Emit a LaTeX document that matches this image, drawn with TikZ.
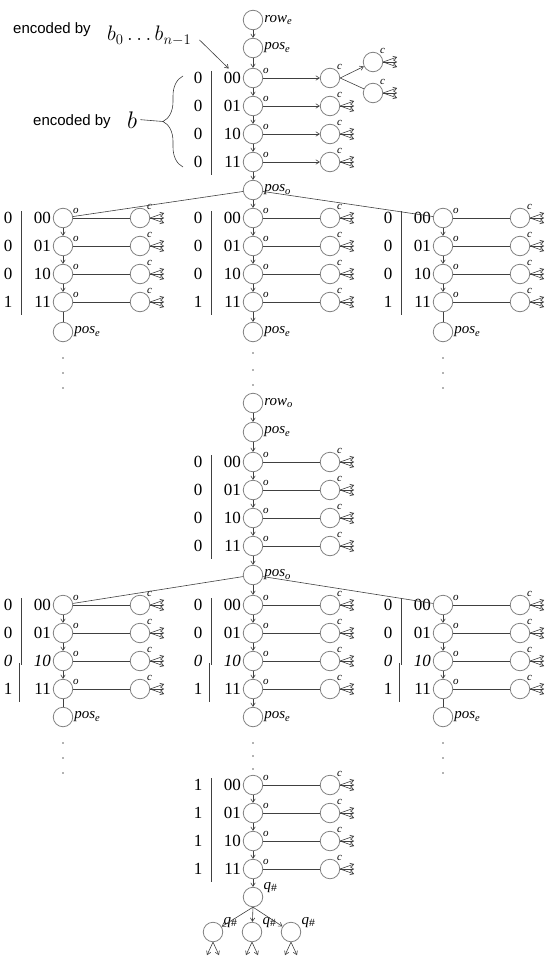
\RequirePackage{fix-cm}
\documentclass[tikz,border=0pt]{standalone}
\usepackage{fontspec}
\setmainfont{Liberation Serif}
\setsansfont{Liberation Sans}
\usetikzlibrary{arrows.meta, decorations.pathreplacing, positioning}

\begin{document}
\begin{tikzpicture}[x=1pt, y=-1pt,
  state/.style={circle, draw=gray, line width=0.8pt, minimum size=19.5pt, inner sep=0pt},
  arr/.style={-{Straight Barb[length=3.5pt, width=4.5pt]}, black!75, line width=0.6pt},
  line/.style={black!75, line width=0.6pt},
  bit/.style={font=\fontsize{17}{17}\selectfont, inner sep=0pt},
  olab/.style={font=\fontsize{11}{11}\selectfont\itshape, inner sep=0.5pt},
  namelab/.style={font=\fontsize{15}{15}\selectfont\itshape, inner sep=1pt},
  note/.style={font=\sffamily\fontsize{15}{15}\selectfont, inner sep=0pt}]
\useasboundingbox (0,0) rectangle (545,958);
% the bit blocks: four o states, each with its c state
\foreach \p/\x/\y/\ba/\bb/\bc/\bd/\cc/\hs/\bs/\fr in {
  t/253/78/0/0/0/0/10/arr/0/{1,2,3},
  ul/63/218/0/0/0/1/10/line/0/{0,1,2,3},
  um/253/218/0/0/0/1/10/line/0/{0,1,2,3},
  ur/443/218/0/0/0/1/10/line/0/{0,1,2,3},
  m/253/462/0/0/0/0/10/line/0/{0,1,2,3},
  ll/63/605/0/0/{\itshape 0}/1/{\itshape 10}/line/-1.5/{0,1,2,3},
  lm/253/605/0/0/{\itshape 0}/1/{\itshape 10}/line/-1.5/{0,1,2,3},
  lr/443/605/0/0/{\itshape 0}/1/{\itshape 10}/line/-1.5/{0,1,2,3},
  b/253/785/1/1/1/1/10/line/0/{0,1,2,3}}
{
  \foreach \r/\bv/\cv in {0/\ba/00, 1/\bb/01, 2/\bc/\cc, 3/\bd/11} {
    \node[state, label={[olab]20:o}] (\p\r) at (\x,\y+28*\r) {};
    \node[state, label={[olab]50:c}] (\p c\r) at (\x+77,\y+28*\r) {};
    \node[bit, anchor=east] (\p k\r) at (\x-12,\y+28*\r) {\cv};
    \node[bit] (\p n\r) at (\x-55,\y+28*\r) {\bv};
    \draw[\hs] (\p\r) -- (\p c\r);
  }
  \foreach \r in \fr \foreach \d in {-5,0,5} \draw[arr] (\p c\r.east) -- ++(14,\d);
  \foreach \r [count=\s] in {0,1,2} \draw[arr] (\p\r) -- (\p\s);
  \draw[line] (\x-42,\y-7) -- (\x-42,\y+60);
  \draw[line] (\x-42+\bs,\y+58) -- (\x-42+\bs,\y+97);
}
% top of the tree
\node[state, label={[namelab]right:{row\textsubscript{e}}}] (rowe) at (253,20) {};
\node[state, label={[namelab]right:{pos\textsubscript{e}}}] (pose) at (253,48) {};
\node[state, label={[namelab]right:{pos\textsubscript{o}}}] (poso) at (253,190) {};
\node[state, label={[olab]50:c}] (tcu) at (373,62) {};
\node[state, label={[olab]50:c}] (tcd) at (373,93) {};
\draw[arr] (rowe) -- (pose); \draw[arr] (pose) -- (t0); \draw[arr] (t3) -- (poso);
\draw[arr] (tc0.east) -- (tcu); \draw[line] (tc0.east) -- (tcd);
\foreach \n in {tcu,tcd} \foreach \d in {-5,0,5} \draw[arr] (\n.east) -- ++(14,\d);
\draw[line] (poso) -- (ul0); \draw[arr] (poso) -- (um0); \draw[line] (poso) -- (ur0);
\node[state, label={[namelab]right:{pos\textsubscript{e}}}] (ulpos) at (63,332) {};
\node[state, label={[namelab]right:{pos\textsubscript{e}}}] (umpos) at (253,332) {};
\node[state, label={[namelab]right:{pos\textsubscript{e}}}] (urpos) at (443,332) {};
\draw[line] (ul3) -- (ulpos); \draw[arr] (um3) -- (umpos); \draw[line] (ur3) -- (urpos);
\foreach \x in {63,443} \foreach \y in {358,373,388} \fill[black!60] (\x,\y) circle (0.8pt);
\foreach \y in {353,370,385} \fill[black!60] (253,\y) circle (0.8pt);
% middle part
\node[state, label={[namelab]right:{row\textsubscript{o}}}] (rowo) at (253,403) {};
\node[state, label={[namelab]right:{pos\textsubscript{e}}}] (mpose) at (253,432) {};
\node[state, label={[namelab]right:{pos\textsubscript{o}}}] (mposo) at (253,575) {};
\draw[arr] (rowo) -- (mpose); \draw[arr] (mpose) -- (m0); \draw[arr] (m3) -- (mposo);
\draw[line] (mposo) -- (ll0); \draw[arr] (mposo) -- (lm0); \draw[line] (mposo) -- (lr0);
\node[state, label={[namelab]right:{pos\textsubscript{e}}}] (llpos) at (63,717) {};
\node[state, label={[namelab]right:{pos\textsubscript{e}}}] (lmpos) at (253,717) {};
\node[state, label={[namelab]right:{pos\textsubscript{e}}}] (lrpos) at (443,717) {};
\draw[line] (ll3) -- (llpos); \draw[arr] (lm3) -- (lmpos); \draw[line] (lr3) -- (lrpos);
\foreach \x in {63,443} \foreach \y in {743,758,773} \fill[black!60] (\x,\y) circle (0.8pt);
\foreach \y in {743,756,769} \fill[black!60] (253,\y) circle (0.8pt);
% final states
\node[state, label={[namelab]20:{q\textsubscript{\normalfont\sffamily\#}}}] (q) at (253,897) {};
\node[state, label={[namelab]20:{q\textsubscript{\normalfont\sffamily\#}}}] (q1) at (213,932) {};
\node[state, label={[namelab]20:{q\textsubscript{\normalfont\sffamily\#}}}] (q2) at (252,932) {};
\node[state, label={[namelab]20:{q\textsubscript{\normalfont\sffamily\#}}}] (q3) at (291,932) {};
\draw[arr] (b3) -- (q);
\foreach \n in {q1,q2,q3} {
  \draw[arr] (q.south) -- (\n);
  \foreach \d in {-6,6} \draw[arr] (\n.south) -- ++(\d,13);
}
% notes
\node[note, anchor=base west] (enc1) at (13,34) {encoded by};
\node[anchor=base west, font=\fontsize{21}{21}\selectfont, inner sep=0pt] (bseq) at (107,41) {$b_0 \ldots b_{n-1}$};
\draw[arr, shorten >=5pt] ([shift={(8,4)}]bseq.east) -- (tk0.north);
\node[note, anchor=base west] (enc2) at (33,125) {encoded by};
\node[anchor=base west, font=\fontsize{24}{24}\selectfont, inner sep=0pt] (bvar) at (127,128) {$b$};
\draw[line, decorate, decoration={brace, amplitude=20pt}] (183,167) -- (183,76);
\coordinate (tip) at (163,121.5);
\draw[line] ([xshift=3pt]bvar.east) -- (tip);
\end{tikzpicture}
\end{document}
